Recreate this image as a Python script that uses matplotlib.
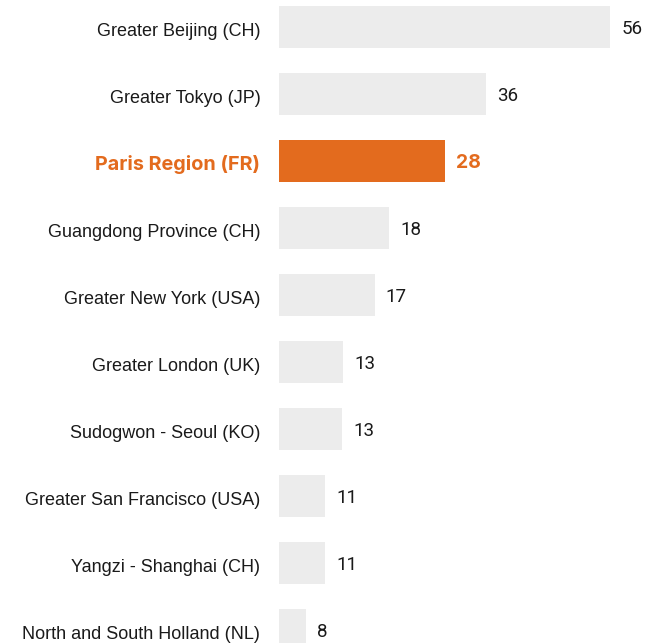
import matplotlib
matplotlib.use("Agg")
import matplotlib.pyplot as plt

# data
regions = ['Greater Beijing (CH)', 'Greater Tokyo (JP)', 'Paris Region (FR)',
           'Guangdong Province (CH)', 'Greater New York (USA)', 'Greater London (UK)',
           'Sudogwon - Seoul (KO)', 'Greater San Francisco (USA)',
           'Yangzi - Shanghai (CH)', 'North and South Holland (NL)']
# bar lengths (same scale as the 56 bar)
bar_values = [56, 35.0, 28.1, 18.6, 16.2, 10.8, 10.7, 7.8, 7.8, 4.6]
# numbers printed next to the bars
value_labels = [56, 36, 28, 18, 17, 13, 13, 11, 11, 8]
highlight = 'Paris Region (FR)'

grey = '#ececec'
orange = '#e36b1e'
txt = '#1a1a1a'

fig = plt.figure(figsize=(6.53, 6.43), dpi=100)
# axes placed in pixels: bars start at x=279, the 56 bar ends at x=610
W, H = 653, 643
ax = fig.add_axes([279 / W, (643 - 663.5) / H, 331 / W, 670 / H])

ypos = list(range(len(regions)))
colors = [orange if r == highlight else grey for r in regions]
ax.barh(ypos, bar_values, height=0.627, color=colors, linewidth=0)

ax.set_xlim(0, 56)
ax.set_ylim(9.5, -0.5)
ax.axis('off')

for y, r, v, lab in zip(ypos, regions, bar_values, value_labels):
    hi = r == highlight
    # category label on the left
    ax.annotate(r, xy=(0, y), xytext=(-13.5, -6.8), textcoords='offset points',
                ha='right', va='baseline', fontsize=14.3 if hi else 13,
                color=orange if hi else txt,
                family='Inter' if hi else 'Liberation Sans',
                fontweight='bold' if hi else 'normal', annotation_clip=False)
    # value label at the bar end
    ax.annotate(str(lab), xy=(v, y), xytext=(8, -5.0), textcoords='offset points',
                ha='left', va='baseline', fontsize=14 if hi else 13.5,
                color=orange if hi else txt,
                family='Inter' if hi else 'Roboto',
                fontweight='bold' if hi else 'normal', annotation_clip=False)

fig.savefig('out.png', dpi=100)
